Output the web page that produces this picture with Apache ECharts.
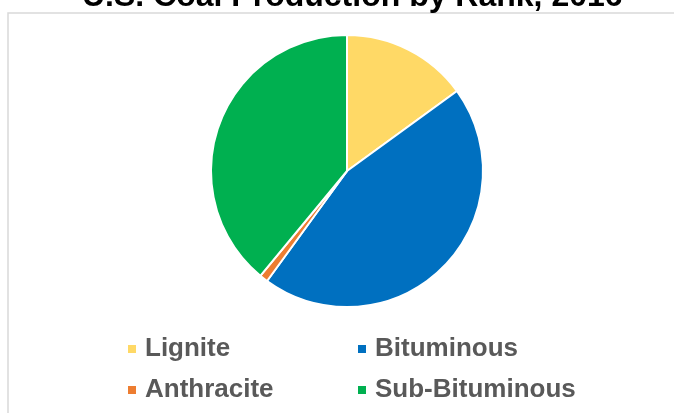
<!DOCTYPE html>
<html>
<head>
<meta charset="utf-8">
<script src="https://cdn.jsdelivr.net/npm/echarts@6/dist/echarts.min.js"></script>
<style>
html,body{margin:0;padding:0;background:#fff;}
#chart{width:674px;height:413px;}
</style>
</head>
<body>
<div id="chart"></div>
<script>
var titleText = 'U.S. Coal Production by Rank, 2016';
var categories = ['Lignite', 'Bituminous', 'Anthracite', 'Sub-Bituminous'];
var values = [15.0, 45.0, 1.0, 39.0];
var colors = ['#FFD966', '#0070C0', '#ED7D31', '#00B050'];

var legendPos = [
  {left: 126, top: 336},
  {left: 356, top: 336},
  {left: 126, top: 377},
  {left: 356, top: 377}
];

var chart = echarts.init(document.getElementById('chart'), null, {renderer: 'canvas'});

var legends = categories.map(function (c, i) {
  return {
    data: [c],
    left: legendPos[i].left,
    top: legendPos[i].top,
    padding: 0,
    icon: 'rect',
    itemWidth: 10,
    itemHeight: 10,
    selectedMode: false,
    textStyle: {
      fontFamily: 'Liberation Sans, Arial, sans-serif',
      fontSize: 26,
      fontWeight: 'bold',
      color: '#595959',
      padding: [0, 0, 0, 3]
    }
  };
});

chart.setOption({
  animation: false,
  backgroundColor: '#fff',
  color: colors,
  title: {
    text: titleText,
    left: 82,
    top: -19,
    padding: 0,
    textStyle: {
      fontFamily: 'Liberation Sans, Arial, sans-serif',
      fontSize: 32,
      fontWeight: 'bold',
      color: '#000'
    }
  },
  graphic: [{
    type: 'rect',
    z: -10,
    shape: {x: 8, y: 13, width: 720, height: 500},
    style: {fill: 'none', stroke: '#d9d9d9', lineWidth: 1.5},
    silent: true
  }],
  legend: legends,
  series: [{
    type: 'pie',
    center: [347, 171],
    radius: [0, 136],
    startAngle: 90,
    clockwise: true,
    label: {show: false},
    labelLine: {show: false},
    emphasis: {disabled: true},
    itemStyle: {borderColor: '#fff', borderWidth: 2},
    data: categories.map(function (c, i) {
      return {name: c, value: values[i]};
    })
  }]
});
</script>
</body>
</html>
